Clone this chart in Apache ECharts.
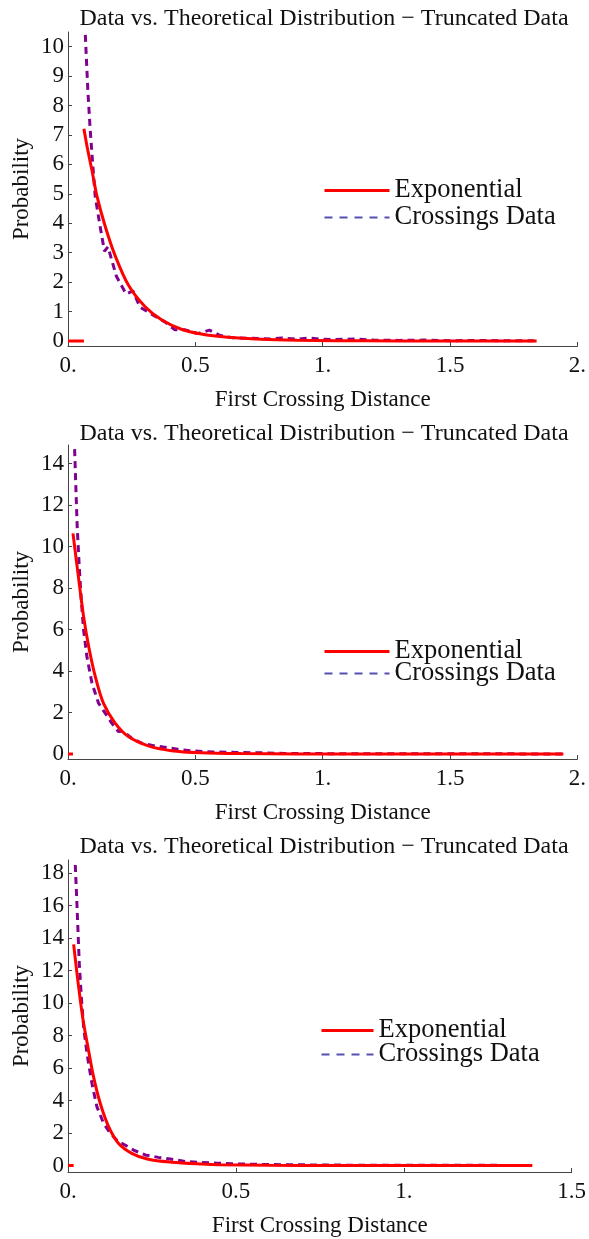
<!DOCTYPE html>
<html>
<head>
<meta charset="utf-8">
<script src="https://cdn.jsdelivr.net/npm/echarts@6/dist/echarts.min.js"></script>
<style>
html,body{margin:0;padding:0;background:#fff;}
#c{width:589px;height:1239px;}
</style>
</head>
<body>
<div id="c"></div>
<script>
// ---------- DATA ----------
const titleText = 'Data vs. Theoretical Distribution \u2212 Truncated Data';
const xName = 'First Crossing Distance';
const yName = 'Probability';
const seriesNames = ['Exponential', 'Crossings Data'];

// Panel 1
const p1ExpZero = [[0, 0], [0.0625, 0]];
const p1Exp = [[0.0625,7.21],[0.075,6.6],[0.094,5.8],[0.113,4.95],[0.146,3.9],[0.185,2.9],[0.237,1.9],[0.302,1.17],[0.367,0.72],[0.445,0.4],[0.523,0.24],[0.628,0.13],[0.758,0.06],[0.9,0.025],[1.05,0.01],[1.3,0.004],[1.6,0.001],[1.84,0]];
const p1Data = [[0.068,10.4],[0.078,8.5],[0.087,7.2],[0.098,5.9],[0.107,4.9],[0.126,3.9],[0.143,3.05],[0.157,3.2],[0.19,2.2],[0.228,1.6],[0.255,1.7],[0.283,1.15],[0.34,0.85],[0.38,0.65],[0.42,0.38],[0.46,0.38],[0.51,0.25],[0.555,0.37],[0.594,0.2],[0.645,0.11],[0.72,0.09],[0.8,0.07],[0.84,0.1],[0.9,0.06],[0.945,0.1],[0.99,0.06],[1.05,0.05],[1.13,0.07],[1.2,0.03],[1.3,0.02],[1.4,0.03],[1.5,0.01],[1.6,0.02],[1.7,0.01],[1.83,0.01]];
const p1YTicks = [0,1,2,3,4,5,6,7,8,9,10];
const p1XTicks = [0,0.5,1,1.5,2];

// Panel 2
const p2ExpZero = [[0, 0], [0.0195, 0]];
const p2Exp = [[0.0195,10.64],[0.042,8.43],[0.061,6.65],[0.081,5.2],[0.107,3.74],[0.139,2.45],[0.185,1.49],[0.237,0.84],[0.315,0.39],[0.406,0.16],[0.523,0.06],[0.68,0.02],[0.9,0.005],[1.2,0.001],[1.945,0]];
const p2Data = [[0.026,14.7],[0.031,12.8],[0.036,11.0],[0.044,9.07],[0.052,7.46],[0.061,6.0],[0.074,4.71],[0.094,3.42],[0.12,2.45],[0.146,1.97],[0.172,1.49],[0.198,1.08],[0.216,1.1],[0.25,0.76],[0.29,0.52],[0.341,0.39],[0.38,0.33],[0.43,0.23],[0.49,0.15],[0.57,0.1],[0.65,0.08],[0.75,0.06],[0.85,0.03],[1.0,0.02],[1.2,0.01],[1.5,0.01],[1.94,0.005]];
const p2YTicks = [0,2,4,6,8,10,12,14];
const p2XTicks = [0,0.5,1,1.5,2];

// Panel 3
const p3ExpZero = [[0, 0], [0.0168, 0]];
const p3Exp = [[0.0168,13.61],[0.0267,11.83],[0.0366,10.18],[0.0465,8.75],[0.061,7.11],[0.076,5.47],[0.096,3.83],[0.121,2.39],[0.15,1.37],[0.19,0.75],[0.239,0.38],[0.309,0.2],[0.398,0.09],[0.45,0.05],[0.6,0.015],[0.8,0.004],[1.0,0.001],[1.383,0]];
const p3Data = [[0.0217,18.49],[0.0257,16.54],[0.0297,14.49],[0.0336,12.44],[0.0396,10.39],[0.0465,8.54],[0.0564,6.9],[0.0712,5.06],[0.086,3.62],[0.106,2.6],[0.126,1.98],[0.15,1.46],[0.17,1.26],[0.195,0.95],[0.23,0.65],[0.269,0.5],[0.31,0.38],[0.35,0.25],[0.39,0.2],[0.44,0.15],[0.5,0.1],[0.6,0.06],[0.7,0.04],[0.85,0.02],[1.0,0.01],[1.2,0.01],[1.38,0.005]];
const p3YTicks = [0,2,4,6,8,10,12,14,16,18];
const p3XTicks = [0,0.5,1,1.5];

// ---------- STYLE ----------
const FONT = '"Liberation Serif", "DejaVu Serif", serif';
const RED = '#ff0000';
const PURPLE = '#800090';
const LEG_BLUE = '#5550b0';
const AX = '#444';
const FS = 23;

const panels = [
  {top: 32,  height: 314, width: 512, xmax: 2,   ymin: -0.17, ymax: 10.5, yT: p1YTicks, xT: p1XTicks, ez: p1ExpZero, e: p1Exp, d: p1Data, titleTop: 2,   legTop: 177, legGap: 0,  legW: 65, legLeft: 323},
  {top: 445, height: 314, width: 512, xmax: 2,   ymin: -0.24, ymax: 14.9, yT: p2YTicks, xT: p2XTicks, ez: p2ExpZero, e: p2Exp, d: p2Data, titleTop: 417, legTop: 638, legGap: -5, legW: 65, legLeft: 323},
  {top: 860, height: 312, width: 505, xmax: 1.5, ymin: -0.4,  ymax: 18.8, yT: p3YTicks, xT: p3XTicks, ez: p3ExpZero, e: p3Exp, d: p3Data, titleTop: 830, legTop: 1017, legGap: -3, legW: 52, legLeft: 320}
];

const grid = [], xAxis = [], yAxis = [], series = [], title = [], legend = [];
panels.forEach((p, i) => {
  grid.push({left: 68, top: p.top, width: p.width, height: p.height, containLabel: false});
  title.push({text: titleText, left: 319, top: p.titleTop, textAlign: 'center',
    textStyle: {fontFamily: FONT, fontSize: 24, fontWeight: 'normal', color: '#111'}});
  xAxis.push({type: 'value', gridIndex: i, min: 0, max: p.xmax,
    name: xName, nameLocation: 'middle', nameGap: 42,
    nameTextStyle: {fontFamily: FONT, fontSize: FS, color: '#111'},
    axisLine: {show: true, onZero: false, lineStyle: {color: AX, width: 1}},
    axisTick: {show: true, inside: true, length: 4, customValues: p.xT, lineStyle: {color: AX}},
    axisLabel: {customValues: p.xT, margin: 8, fontFamily: FONT, fontSize: FS, color: '#111',
      formatter: v => Number.isInteger(v) ? v + '.' : String(v)},
    splitLine: {show: false}});
  yAxis.push({type: 'value', gridIndex: i, min: p.ymin, max: p.ymax,
    name: yName, nameLocation: 'middle', nameGap: 35, nameMoveOverlap: false,
    nameTextStyle: {fontFamily: FONT, fontSize: FS, color: '#111'},
    axisLine: {show: true, onZero: false, lineStyle: {color: AX, width: 1}},
    axisTick: {show: true, inside: true, length: 4, customValues: p.yT, lineStyle: {color: AX}},
    axisLabel: {customValues: p.yT, margin: 4, fontFamily: FONT, fontSize: FS, color: '#111'},
    splitLine: {show: false}});
  series.push({name: seriesNames[0], type: 'line', xAxisIndex: i, yAxisIndex: i, data: p.ez,
    showSymbol: false, symbol: 'none', lineStyle: {color: RED, width: 3}, itemStyle: {color: RED}, z: 3});
  series.push({name: seriesNames[0], type: 'line', xAxisIndex: i, yAxisIndex: i, data: p.e, smooth: 0.3,
    showSymbol: false, symbol: 'none', lineStyle: {color: RED, width: 3}, itemStyle: {color: RED}, z: 3});
  series.push({name: seriesNames[1], type: 'line', xAxisIndex: i, yAxisIndex: i, data: p.d,
    showSymbol: false, symbol: 'none', lineStyle: {color: PURPLE, width: 3, type: [7, 5]}, itemStyle: {color: PURPLE}, z: 2});
  legend.push({show: true, left: p.legLeft, top: p.legTop, orient: 'vertical',
    itemWidth: p.legW, itemHeight: 14, itemGap: p.legGap, padding: 0,
    textStyle: {fontFamily: FONT, fontSize: 26.5, color: '#111'},
    selectedMode: false,
    data: [
      {name: seriesNames[0], lineStyle: {color: RED, width: 3, type: 'solid'}, itemStyle: {color: RED, opacity: 0, borderWidth: 0}},
      {name: seriesNames[1], lineStyle: {color: LEG_BLUE, width: 2, type: [8, 7]}, itemStyle: {color: LEG_BLUE, opacity: 0, borderWidth: 0}}
    ]});
});

const chart = echarts.init(document.getElementById('c'), null, {renderer: 'canvas'});
chart.setOption({
  backgroundColor: '#fff',
  animation: false,
  title, grid, xAxis, yAxis, series, legend
});
</script>
</body>
</html>
